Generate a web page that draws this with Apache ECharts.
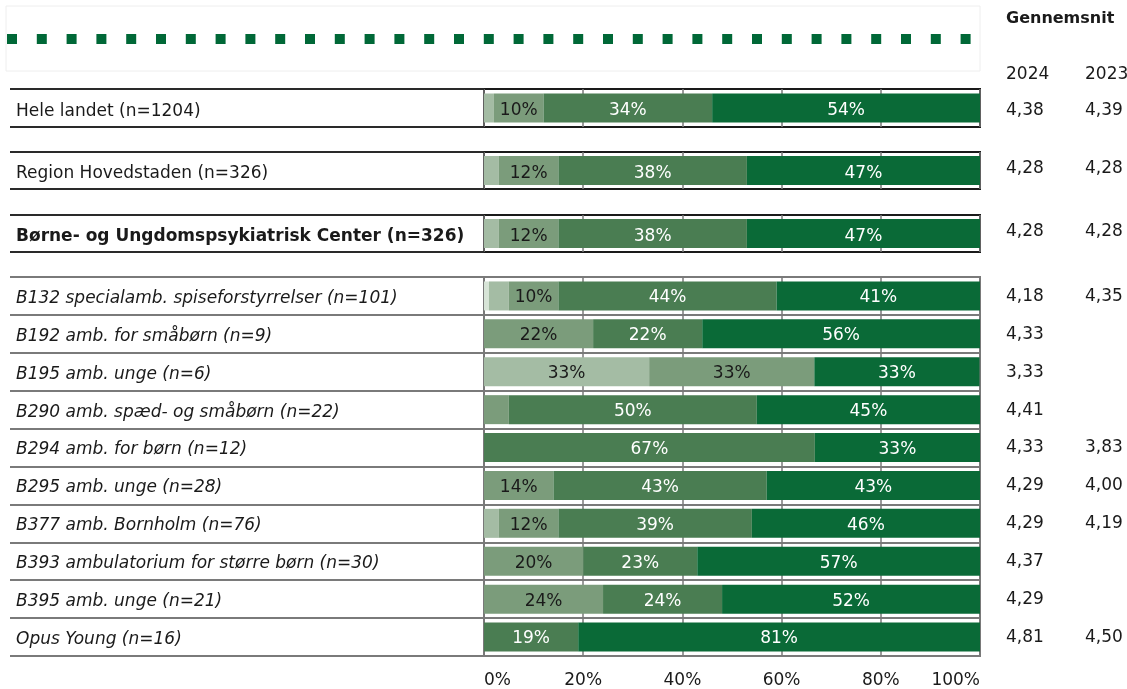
<!DOCTYPE html>
<html>
<head>
<meta charset="utf-8">
<script src="https://cdn.jsdelivr.net/npm/echarts@6/dist/echarts.min.js"></script>
<style>
  html, body { margin: 0; padding: 0; background: #fff; }
  #chart { width: 1127px; height: 689px; }
</style>
</head>
<body>
<div id="chart"></div>
<script>
(function() {
    'use strict';

    // rækker: landet, region, center, og afsnittene
    var topCategories = ['Hele landet (n=1204)', 'Region Hovedstaden (n=326)', 'Børne- og Ungdomspsykiatrisk Center (n=326)'];
    var unitCategories = [
        'B132 specialamb. spiseforstyrrelser (n=101)',
        'B192 amb. for småbørn (n=9)',
        'B195 amb. unge (n=6)',
        'B290 amb. spæd- og småbørn (n=22)',
        'B294 amb. for børn (n=12)',
        'B295 amb. unge (n=28)',
        'B377 amb. Bornholm (n=76)',
        'B393 ambulatorium for større børn (n=30)',
        'B395 amb. unge (n=21)',
        'Opus Young (n=16)'
    ];

    // andele i procent, fra laveste til højeste svarkategori (samme rækkefølge som ovenfor)
    var level1 = [0, 0, 0, 1, 0, 0, 0, 0, 0, 0, 0, 0, 0];
    var level2 = [2, 3, 3, 4, 0, 33.3, 0, 0, 0, 3, 0, 0, 0];
    var level3 = [10, 12, 12, 10, 22, 33.3, 5, 0, 14, 12, 20, 24, 0];
    var level4 = [34, 38, 38, 44, 22, 0, 50, 66.7, 43, 39, 23, 24, 19];
    var level5 = [54, 47, 47, 41, 56, 33.3, 45, 33.3, 43, 46, 57, 52, 81];

    var avg2024 = ['4,38', '4,28', '4,28', '4,18', '4,33', '3,33', '4,41', '4,33', '4,29', '4,29', '4,37', '4,29', '4,81'];
    var avg2023 = ['4,39', '4,28', '4,28', '4,35', '', '', '', '3,83', '4,00', '4,19', '', '', '4,50'];

    var xTicks = ['0%', '20%', '40%', '60%', '80%', '100%'];

    var levels = [level1, level2, level3, level4, level5];
    var levelColors = ['#d7e4d7', '#a4bca4', '#7b9c7b', '#4a7d52', '#0a6a37'];
    var labelColors = ['#1a1a1a', '#1a1a1a', '#1a1a1a', '#ffffff', '#ffffff'];

    var FONT = 'DejaVu Sans';
    var TEXT = '#1a1a1a';

    // grids: 3 enkeltrækker øverst + blok med afsnit
    var groups = [
        { top: 89, height: 38, rows: [0], cats: [topCategories[0]], weight: 'normal', style: 'normal', dark: true },
        { top: 152, height: 37, rows: [1], cats: [topCategories[1]], weight: 'normal', style: 'normal', dark: true },
        { top: 215, height: 37, rows: [2], cats: [topCategories[2]], weight: 'bold', style: 'normal', dark: true },
        { top: 277, height: 380, rows: [3, 4, 5, 6, 7, 8, 9, 10, 11, 12], cats: unitCategories, weight: 'normal', style: 'italic', dark: false }
    ];

    var grid = [], xAxis = [], yAxis = [], series = [];

    groups.forEach(function(g, gi) {
        var lineColor = g.dark ? '#1a1a1a' : '#7a7a7a';
        grid.push({
            left: 484, width: 496, top: g.top, height: g.height,
            show: true, borderColor: lineColor, borderWidth: 2
        });
        var isLast = gi === groups.length - 1;
        xAxis.push({
            type: 'value', gridIndex: gi, min: 0, max: 100, interval: 20,
            axisLine: { show: false }, axisTick: { show: false },
            splitLine: { show: true, lineStyle: { color: '#7a7a7a', width: 1.5 } },
            axisLabel: {
                show: isLast, margin: 16, fontFamily: FONT, fontSize: 17, color: TEXT,
                alignMinLabel: 'left', alignMaxLabel: 'right',
                formatter: function(v) { return xTicks[Math.round(v / 20)]; }
            }
        });
        yAxis.push({
            type: 'category', gridIndex: gi, data: g.cats, inverse: true,
            axisLine: { show: false },
            axisTick: { show: true, length: 474, lineStyle: { color: g.dark ? '#2a2a2a' : '#7a7a7a', width: 2 } },
            splitLine: { show: !g.dark, lineStyle: { color: '#7a7a7a', width: 2 } },
            axisLabel: {
                align: 'left', margin: 468, padding: [g.dark ? 7 : 5, 0, 0, 0],
                fontFamily: FONT, fontSize: 17, color: TEXT,
                formatter: function(v) { return '{l|' + v + '}'; },
                rich: {
                    l: { fontFamily: FONT, fontSize: 17, color: TEXT, fontWeight: g.weight, fontStyle: g.style }
                }
            }
        });
    });

    // højre akser med gennemsnit 2024 / 2023
    groups.forEach(function(g, gi) {
        yAxis.push({
            type: 'category', gridIndex: gi, position: 'right', inverse: true,
            data: g.rows.map(function(r) { return avg2024[r]; }),
            axisLine: { show: false }, axisTick: { show: false }, splitLine: { show: false },
            axisLabel: {
                align: 'left', margin: 26,
                padding: gi === 0 ? [5, 0, 0, 0] : (gi === 3 ? [1, 0, 0, 0] : [0, 0, 4, 0]),
                fontFamily: FONT, fontSize: 17, color: TEXT,
                formatter: function(v, idx) {
                    return '{a|' + v + '}{b|' + avg2023[g.rows[idx]] + '}';
                },
                rich: {
                    a: { width: 79, fontFamily: FONT, fontSize: 17, color: TEXT },
                    b: { fontFamily: FONT, fontSize: 17, color: TEXT }
                }
            }
        });
    });

    groups.forEach(function(g, gi) {
        levels.forEach(function(arr, li) {
            series.push({
                type: 'bar', xAxisIndex: gi, yAxisIndex: gi, stack: 'g' + gi,
                barWidth: 29, silent: true,
                itemStyle: { color: levelColors[li] },
                label: {
                    show: true, position: 'inside', fontFamily: FONT, fontSize: 17,
                    offset: [0, g.dark ? 3 : 2],
                    color: labelColors[li],
                    formatter: function(p) { return p.value >= 8 ? Math.round(p.value) + '%' : ''; }
                },
                data: g.rows.map(function(r) { return arr[r]; })
            });
        });
    });

    var chart = echarts.init(document.getElementById('chart'), null, { renderer: 'canvas' });
    chart.setOption({
        animation: false,
        backgroundColor: '#ffffff',
        textStyle: { fontFamily: FONT },
        grid: grid,
        xAxis: xAxis,
        yAxis: yAxis,
        series: series,
        graphic: [
            // tom forklaringsboks med prikket linje
            { type: 'rect', shape: { x: 6, y: 6, width: 974, height: 65 },
              style: { fill: 'none', stroke: '#eeeeee', lineWidth: 1 }, silent: true },
            { type: 'line', shape: { x1: 7, y1: 39, x2: 975, y2: 39 },
              style: { stroke: '#006837', lineWidth: 10, lineDash: [10, 19.8] }, silent: true },
            { type: 'text', left: 1006, top: 11,
              style: { text: 'Gennemsnit', font: 'bold 16px "DejaVu Sans"', fill: TEXT } },
            { type: 'text', left: 1006, top: 66,
              style: { text: '2024', font: '17px "DejaVu Sans"', fill: TEXT } },
            { type: 'text', left: 1085, top: 66,
              style: { text: '2023', font: '17px "DejaVu Sans"', fill: TEXT } }
        ]
    });
})();
</script>
</body>
</html>
